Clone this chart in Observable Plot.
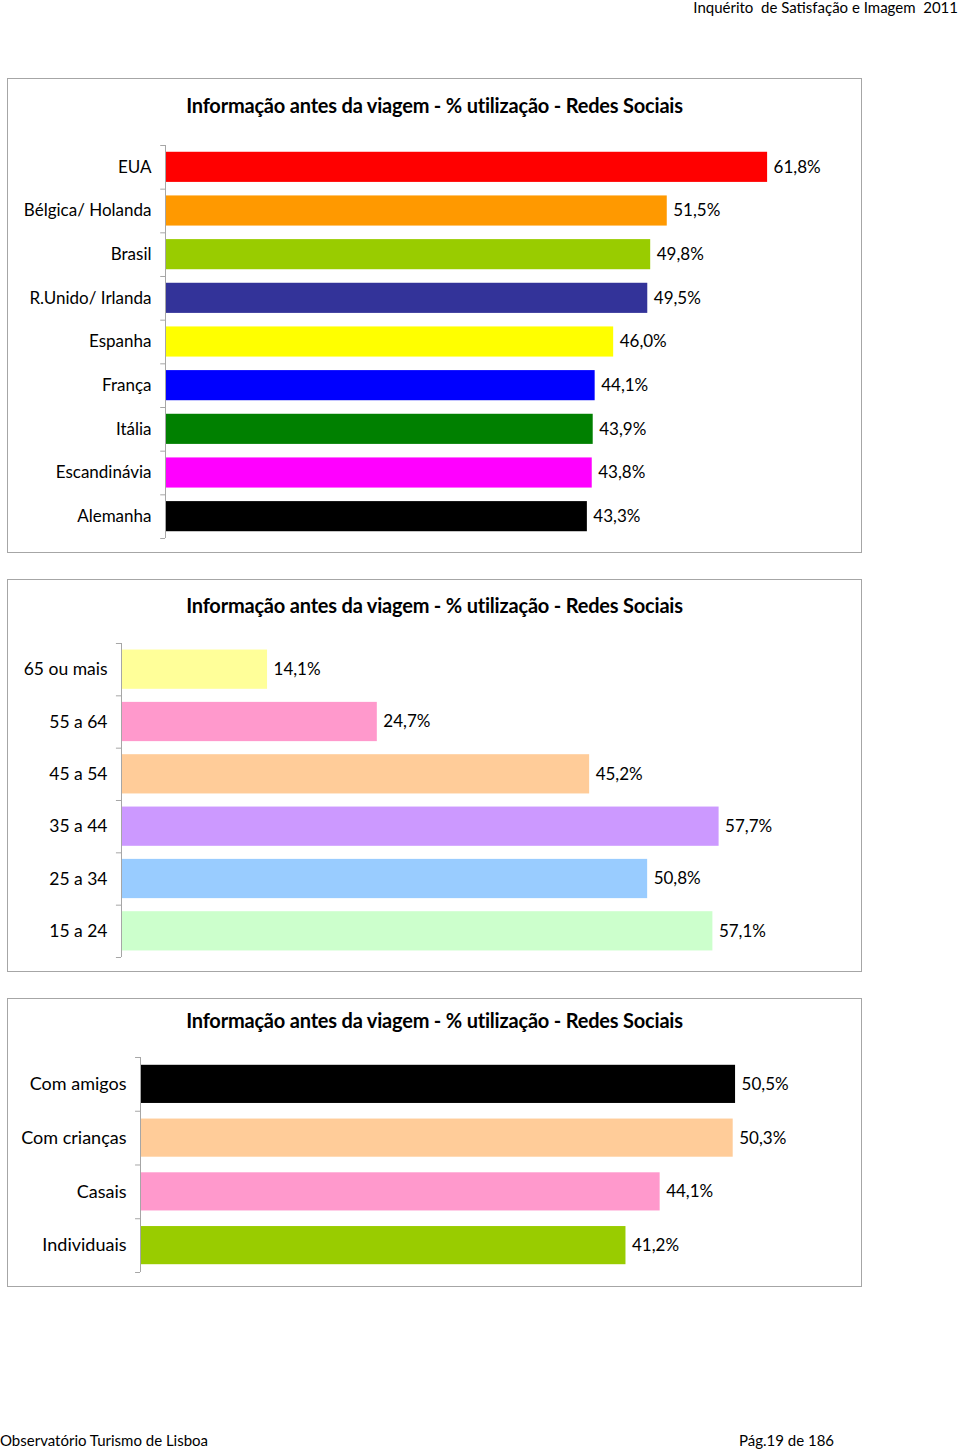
<!DOCTYPE html>
<html>
<head>
<meta charset="utf-8">
<script src="https://cdn.jsdelivr.net/npm/d3@7"></script>
<script src="https://cdn.jsdelivr.net/npm/@observablehq/plot@0.6"></script>
<style>
  html, body { margin: 0; padding: 0; background: #fff; }
  body { width: 960px; height: 1452px; position: relative; font-family: Lato, "Open Sans", sans-serif; color: #000; overflow: hidden; }
  .abs { position: absolute; }
  .panel { position: absolute; left: 7px; width: 855px; box-sizing: border-box; border: 1px solid #a6a6a6; }
  .title { position: absolute; left: 7px; width: 855px; text-align: center; font-weight: bold; font-size: 20px; letter-spacing: -0.2px; }
  .hdr { font-size: 15px; }
</style>
</head>
<body>
<div class="abs hdr" style="right:2px; top:-2px;">Inquérito&nbsp; de Satisfação e Imagem&nbsp; 2011</div>

<div class="panel" style="top:78px; height:475px;"></div>
<div class="title" style="top:93px;">Informação antes da viagem - % utilização - Redes Sociais</div>
<div id="c1" class="abs" style="left:7px; top:78px;"></div>

<div class="panel" style="top:579px; height:393px;"></div>
<div class="title" style="top:593px;">Informação antes da viagem - % utilização - Redes Sociais</div>
<div id="c2" class="abs" style="left:7px; top:579px;"></div>

<div class="panel" style="top:998px; height:289px;"></div>
<div class="title" style="top:1008px;">Informação antes da viagem - % utilização - Redes Sociais</div>
<div id="c3" class="abs" style="left:7px; top:998px;"></div>

<div class="abs hdr" style="left:0px; top:1431px;">Observatório Turismo de Lisboa</div>
<div class="abs hdr" style="left:739px; top:1431px;">Pág.19 de 186</div>

<script>
// ---- Data ----
const countries = ["EUA", "Bélgica/ Holanda", "Brasil", "R.Unido/ Irlanda", "Espanha", "França", "Itália", "Escandinávia", "Alemanha"];
const countryValues = [61.8, 51.5, 49.8, 49.5, 46.0, 44.1, 43.9, 43.8, 43.3];
const countryColors = ["#FF0000", "#FF9900", "#99CC00", "#333399", "#FFFF00", "#0000FF", "#008000", "#FF00FF", "#000000"];

const ages = ["65 ou mais", "55 a 64", "45 a 54", "35 a 44", "25 a 34", "15 a 24"];
const ageValues = [14.1, 24.7, 45.2, 57.7, 50.8, 57.1];
const ageColors = ["#FFFF99", "#FF99CC", "#FFCC99", "#CC99FF", "#99CCFF", "#CCFFCC"];

const groups = ["Com amigos", "Com crianças", "Casais", "Individuais"];
const groupValues = [50.5, 50.3, 44.1, 41.2];
const groupColors = ["#000000", "#FFCC99", "#FF99CC", "#99CC00"];

const fmt = v => d3.format(".1f")(v).replace(".", ",") + "%";

function chart({cats, vals, cols, width, height, mt, mb, ml, mr, xmax, pad, fs}) {
  const data = cats.map((c, i) => ({cat: c, value: vals[i], color: cols[i]}));
  const step = (height - mt - mb) / cats.length;
  const boundaries = cats.map(c => ({cat: c, dy: -step / 2})).concat([{cat: cats[cats.length - 1], dy: step / 2}]);
  return Plot.plot({
    width, height,
    marginTop: mt, marginBottom: mb, marginLeft: ml, marginRight: mr,
    style: {fontFamily: "Lato, 'Open Sans', sans-serif", fontSize: fs + "px", color: "#000", background: "transparent", overflow: "visible"},
    x: {domain: [0, xmax], axis: null},
    y: {domain: cats, paddingInner: pad, paddingOuter: pad / 2, round: false, label: null},
    marks: [
      Plot.barX(data, {x: "value", y: "cat", fill: "color"}),
      Plot.ruleX([0], {stroke: "#a6a6a6", strokeWidth: 1}),
      ...boundaries.map(b => Plot.ruleY([b.cat], {x1: -xmax * 0.007, x2: 0, dy: b.dy, stroke: "#a6a6a6"})),
      Plot.axisY({tickSize: 0, tickPadding: 14, fontSize: fs, fill: "#000", label: null}),
      Plot.text(data, {x: "value", y: "cat", text: d => fmt(d.value), dx: 6, textAnchor: "start", fontSize: 17, fill: "#000"})
    ]
  });
}

document.getElementById("c1").append(chart({cats: countries, vals: countryValues, cols: countryColors, width: 854, height: 474, mt: 67, mb: 14, ml: 158, mr: 14, xmax: 70, pad: 0.31, fs: 17}));
document.getElementById("c2").append(chart({cats: ages, vals: ageValues, cols: ageColors, width: 854, height: 392, mt: 64, mb: 14, ml: 114, mr: 15, xmax: 70, pad: 0.25, fs: 17.5}));
document.getElementById("c3").append(chart({cats: groups, vals: groupValues, cols: groupColors, width: 854, height: 288, mt: 59, mb: 14, ml: 133, mr: 14, xmax: 60, pad: 0.29, fs: 18}));
</script>
</body>
</html>
